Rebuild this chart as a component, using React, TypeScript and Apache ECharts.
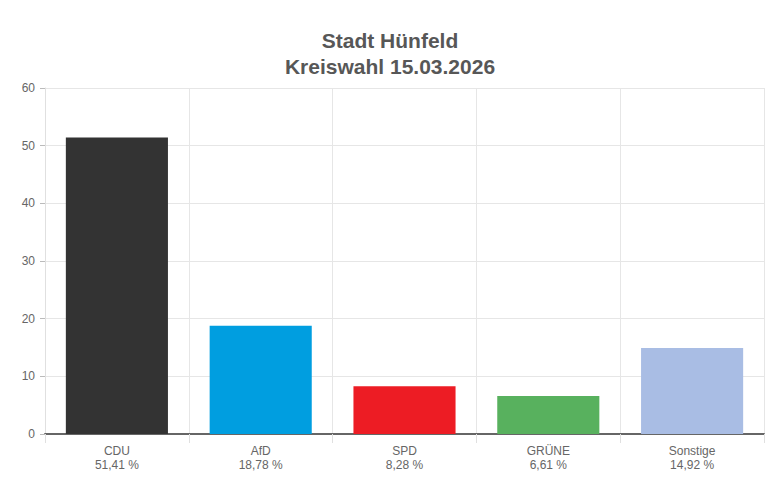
import { useEffect, useRef } from 'react';
import * as echarts from 'echarts';

const parties = ['CDU', 'AfD', 'SPD', 'GRÜNE', 'Sonstige'];
const shares = [51.41, 18.78, 8.28, 6.61, 14.92];
const colors = ['#333333', '#009ee0', '#ed1c24', '#58b15e', '#a9bde4'];
const yTicks = { min: 0, max: 60, interval: 10 };

const fmt = (v: number) => v.toFixed(2).replace('.', ',') + ' %';

export default function App() {
  const ref = useRef<HTMLDivElement>(null);

  useEffect(() => {
    document.body.style.margin = '0';
    const dom = ref.current;
    if (!dom) return;
    const chart = echarts.init(dom, undefined, { renderer: 'svg' });

    chart.setOption({
      animation: false,
      textStyle: { fontFamily: "'Liberation Sans', Arial, sans-serif" },
      title: {
        text: 'Stadt Hünfeld\nKreiswahl 15.03.2026',
        left: 'center',
        top: 22,
        textStyle: {
          fontFamily: "'Liberation Sans', Arial, sans-serif",
          fontSize: 21,
          fontWeight: 'bold',
          color: '#575757',
          lineHeight: 26,
        },
      },
      grid: { left: 45, right: 16, top: 88, bottom: 55 },
      xAxis: {
        type: 'category',
        data: parties,
        axisLine: { lineStyle: { color: '#666', width: 2 } },
        axisTick: { show: true, length: 9, lineStyle: { color: '#e0e0e0' } },
        splitLine: { show: true, lineStyle: { color: '#e6e6e6' } },
        axisLabel: {
          color: '#666',
          fontSize: 12,
          lineHeight: 14,
          margin: 10,
          formatter: (v: string, i: number) => `${v}\n${fmt(shares[i])}`,
        },
      },
      yAxis: {
        type: 'value',
        ...yTicks,
        axisLine: { show: true, lineStyle: { color: '#e0e0e0' } },
        axisTick: { show: true, length: 5, lineStyle: { color: '#bbb' } },
        splitLine: { lineStyle: { color: '#e6e6e6' } },
        axisLabel: { color: '#666', fontSize: 12, margin: 10 },
      },
      series: [
        {
          type: 'bar',
          barCategoryGap: '29%',
          data: shares.map((v, i) => ({ value: v, itemStyle: { color: colors[i] } })),
        },
      ],
    } as echarts.EChartsOption);

    return () => chart.dispose();
  }, []);

  return <div ref={ref} style={{ width: 780, height: 489 }} />;
}
